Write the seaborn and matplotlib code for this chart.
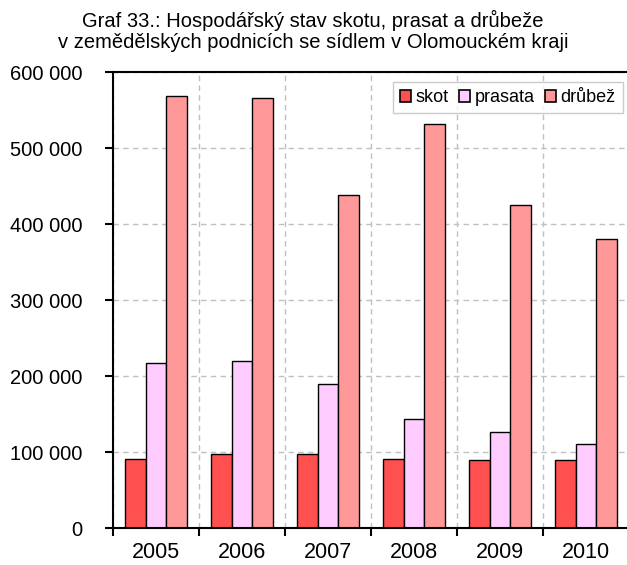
import numpy as np
import pandas as pd
import matplotlib
matplotlib.use("Agg")
import matplotlib.pyplot as plt
from matplotlib.patches import Patch
from matplotlib.ticker import FuncFormatter, MultipleLocator
import seaborn as sns

# data
years = ["2005", "2006", "2007", "2008", "2009", "2010"]
skot = [91000, 97000, 97000, 91000, 89000, 89000]
prasata = [217000, 220000, 189000, 144000, 126000, 110000]
drubez = [569000, 566000, 438000, 532000, 425000, 380000]
series_names = ["skot", "prasata", "drůbež"]
colors = ["#FF5050", "#FFCCFF", "#FF9999"]

df = pd.DataFrame({
    "rok": years * 3,
    "druh": [series_names[0]] * 6 + [series_names[1]] * 6 + [series_names[2]] * 6,
    "pocet": skot + prasata + drubez,
})

sns.set_style("white")
plt.rcParams["font.family"] = ["Liberation Sans", "DejaVu Sans"]
plt.rcParams["text.color"] = "black"
plt.rcParams["xtick.color"] = "black"
plt.rcParams["ytick.color"] = "black"

W, H = 627, 565
fig = plt.figure(figsize=(W / 100, H / 100), dpi=100)
# axes box in pixels: left 113, right 629, top 72, bottom 528
ax = fig.add_axes([113 / W, (H - 528) / H, (629 - 113) / W, (528 - 72) / H])

sns.barplot(
    data=df, x="rok", y="pocet", hue="druh",
    palette=colors, width=0.72, edgecolor="black", linewidth=1.0,
    saturation=1, ax=ax, legend=False,
)

ax.set_xlim(-0.5, 5.5)
ax.set_ylim(0, 600000)
ax.yaxis.set_major_locator(MultipleLocator(100000))
ax.yaxis.set_major_formatter(FuncFormatter(lambda v, p: f"{int(v):,}".replace(",", " ")))

# ticks between categories, labels in the middle
ax.set_xticks(np.arange(len(years)))
ax.set_xticklabels(years)
ax.set_xticks(np.arange(len(years) + 1) - 0.5, minor=True)
ax.tick_params(axis="x", which="major", bottom=False, length=0, pad=10, labelsize=15.5)
ax.tick_params(axis="x", which="minor", bottom=True, length=6, width=1.5, direction="out")
ax.tick_params(axis="y", left=True, length=6, width=1.5, direction="out", pad=16, labelsize=14.5)

ax.grid(False)
ax.yaxis.grid(True, color="#C0C0C0", linestyle=(0, (4, 3)), linewidth=1.0)
ax.xaxis.grid(True, which="minor", color="#C0C0C0", linestyle=(0, (4, 3)), linewidth=1.0)
ax.set_axisbelow(True)

for side in ["left", "bottom", "top", "right"]:
    ax.spines[side].set_color("black")
    ax.spines[side].set_linewidth(1.5)

ax.set_xlabel("")
ax.set_ylabel("")

handles = [Patch(facecolor=c, edgecolor="black", linewidth=1.2) for c in colors]
leg = ax.legend(
    handles, series_names, ncol=3, loc="upper right",
    bbox_to_anchor=((623 - 113) / 516, (528 - 82) / 456), borderaxespad=0,
    fontsize=13, handlelength=0.6, handleheight=0.6, handletextpad=0.25,
    columnspacing=0.6, frameon=True, fancybox=False, borderpad=0.4,
)
leg.get_frame().set_edgecolor("#BFBFBF")
leg.get_frame().set_linewidth(1.0)

fig.text(313 / W, 1 - 20 / H, "Graf 33.: Hospodářský stav skotu, prasat a drůbeže",
         ha="center", va="center", fontsize=14.5)
fig.text(313 / W, 1 - 43 / H, "v zemědělských podnicích se sídlem v Olomouckém kraji",
         ha="center", va="center", fontsize=14.5)

fig.savefig("out.png", dpi=100, facecolor="white")
